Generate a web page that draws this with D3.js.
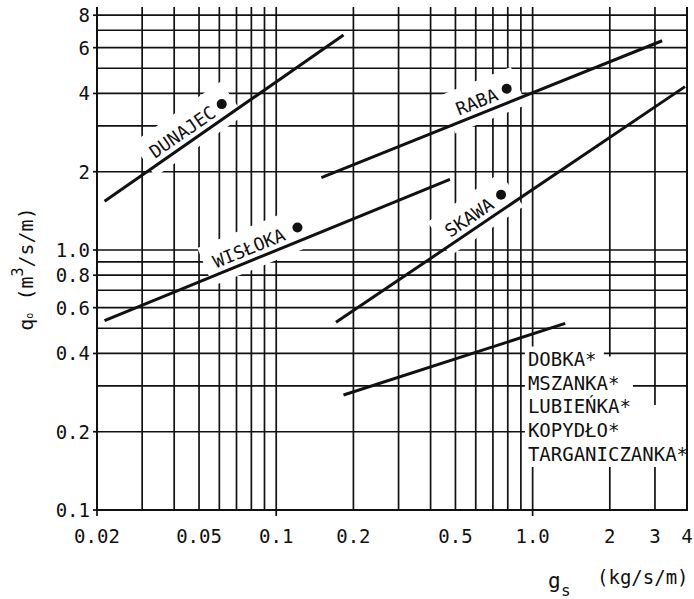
<!DOCTYPE html>
<html>
<head>
<meta charset="utf-8">
<script src="https://cdn.jsdelivr.net/npm/d3@7"></script>
<style>
  body { margin: 0; background: #fff; }
  text { font-family: "DejaVu Sans Mono", monospace; fill: #111; }
</style>
</head>
<body>
<svg></svg>
<script>
const w = 694
const h = 599

// tick labels
const xTicks = [0.02, 0.05, 0.1, 0.2, 0.5, 1, 2, 3, 4]
const xTickLabels = ['0.02', '0.05', '0.1', '0.2', '0.5', '1.0', '2', '3', '4']
const yTicks = [0.1, 0.2, 0.4, 0.6, 0.8, 1, 2, 4, 6, 8]
const yTickLabels = ['0.1', '0.2', '0.4', '0.6', '0.8', '1.0', '2', '4', '6', '8']

// grid lines
const xGrid = [0.03, 0.04, 0.05, 0.06, 0.07, 0.08, 0.09, 0.1, 0.2, 0.3, 0.4, 0.5, 0.6, 0.7, 0.8, 0.9, 1, 2, 3]
const yGrid = [0.2, 0.3, 0.4, 0.5, 0.6, 0.7, 0.8, 0.9, 1, 2, 3, 4, 5, 6, 7, 8]

// rivers: line ends [gs, q0] and measured point
const rivers = ['DUNAJEC', 'WISŁOKA', 'RABA', 'SKAWA']
const riverLines = [
  [[0.0214, 1.54], [0.183, 6.71]],
  [[0.0214, 0.535], [0.476, 1.87]],
  [[0.150, 1.90], [3.20, 6.38]],
  [[0.171, 0.527], [3.93, 4.25]]
]
const riverPoints = [[0.0613, 3.64], [0.121, 1.22], [0.792, 4.17], [0.753, 1.63]]
const labelAt = [0.0459, 0.0817, 0.631, 0.602] // gs where the label sits on the line

// small streams share one line
const streams = ['DOBKA*', 'MSZANKA*', 'LUBIEŃKA*', 'KOPYDŁO*', 'TARGANICZANKA*']
const streamLine = [[0.183, 0.277], [1.34, 0.522]]

const svg = d3.select('svg')
  .attr('width', w)
  .attr('height', h)

const x = d3.scaleLog().domain([0.02, 4]).range([97, 687])
const y = d3.scaleLog().domain([0.1, 10]).range([510, -10])
const gridTop = 7

const gridG = svg.append('g')
const maskG = svg.append('g')
const dataG = svg.append('g')
const textG = svg.append('g')

// grid
gridG.selectAll('.vg').data(xGrid)
  .enter().append('line')
  .attr('x1', d => x(d)).attr('x2', d => x(d))
  .attr('y1', gridTop).attr('y2', y(0.1))
  .attr('stroke', '#111').attr('stroke-width', 1.7)

gridG.selectAll('.hg').data(yGrid)
  .enter().append('line')
  .attr('x1', x(0.02)).attr('x2', x(4))
  .attr('y1', d => y(d)).attr('y2', d => y(d))
  .attr('stroke', '#111').attr('stroke-width', 1.7)

// frame: left axis, bottom axis, right border
gridG.append('path')
  .attr('d', `M${x(0.02)},${gridTop}V${y(0.1)}H${x(4)}V${gridTop}`)
  .attr('fill', 'none').attr('stroke', '#111').attr('stroke-width', 2)

// tick marks
gridG.selectAll('.yt').data(yTicks)
  .enter().append('line')
  .attr('x1', x(0.02) - 4).attr('x2', x(0.02))
  .attr('y1', d => y(d)).attr('y2', d => y(d))
  .attr('stroke', '#111').attr('stroke-width', 1.7)

gridG.selectAll('.xt').data([0.02, 0.1, 1])
  .enter().append('line')
  .attr('x1', d => x(d)).attr('x2', d => x(d))
  .attr('y1', y(0.1)).attr('y2', y(0.1) + 6)
  .attr('stroke', '#111').attr('stroke-width', 1.7)

// tick labels
textG.selectAll('.xl').data(xTicks)
  .enter().append('text')
  .attr('x', d => x(d)).attr('y', 543)
  .attr('text-anchor', 'middle')
  .attr('font-size', 19)
  .text((d, i) => xTickLabels[i])

textG.selectAll('.yl').data(yTicks)
  .enter().append('text')
  .attr('x', 90).attr('y', d => y(d) + 7)
  .attr('text-anchor', 'end')
  .attr('font-size', 19)
  .text((d, i) => yTickLabels[i])

// axis titles
const yt = textG.append('text')
  .attr('transform', 'translate(33, 269) rotate(-90)')
  .attr('text-anchor', 'middle')
  .attr('font-size', 20)
yt.append('tspan').text('q')
yt.append('tspan').attr('font-size', 10).text('o')
yt.append('tspan').text(' (m')
yt.append('tspan').attr('font-size', 15).attr('dy', -10).text('3')
yt.append('tspan').attr('dy', 10).text('/s/m)')

textG.append('text').attr('x', 548).attr('y', 588).attr('font-size', 21).text('g')
textG.append('text').attr('x', 561).attr('y', 596).attr('font-size', 16).text('s')
textG.append('text').attr('x', 597).attr('y', 584).attr('font-size', 19).text('(kg/s/m)')

// river lines with labels
const lineGen = d3.line().x(d => x(d[0])).y(d => y(d[1]))

rivers.forEach((name, i) => {
  const pts = riverLines[i]
  const p0 = [x(pts[0][0]), y(pts[0][1])]
  const p1 = [x(pts[1][0]), y(pts[1][1])]
  const ang = Math.atan2(p1[1] - p0[1], p1[0] - p0[0])
  const ax = x(labelAt[i])
  const ay = p0[1] + (ax - p0[0]) * Math.tan(ang)
  const dot = [x(riverPoints[i][0]), y(riverPoints[i][1])]
  const dotU = (dot[0] - ax) * Math.cos(ang) + (dot[1] - ay) * Math.sin(ang)
  const halfW = name.length * 10.8 / 2
  const tr = `translate(${ax},${ay}) rotate(${ang * 180 / Math.PI})`

  // white gap in the grid behind the label and point
  maskG.append('rect')
    .attr('transform', tr)
    .attr('x', -halfW - 10).attr('y', -32)
    .attr('width', dotU + 12 + halfW + 10).attr('height', 41)
    .attr('fill', '#fff')

  dataG.append('path')
    .attr('d', lineGen(pts))
    .attr('fill', 'none').attr('stroke', '#111').attr('stroke-width', 3)

  dataG.append('circle')
    .attr('cx', dot[0]).attr('cy', dot[1]).attr('r', 5)
    .attr('fill', '#111')

  textG.append('text')
    .attr('transform', tr)
    .attr('y', -6)
    .attr('text-anchor', 'middle')
    .attr('font-size', 18)
    .text(name)
})

// small streams
dataG.append('path')
  .attr('d', lineGen(streamLine))
  .attr('fill', 'none').attr('stroke', '#111').attr('stroke-width', 3)

const lx = x(0.9) + 4
maskG.append('path')
  .attr('d', `M${lx},${y(0.4) - 7}H${x(2) - 6}V${y(0.4) + 3}H${x(3) - 22}V${y(0.3) + 3}` +
    `H${x(3) - 4}V${y(0.3) + 19}H${x(4) - 1}V467H${lx}Z`)
  .attr('fill', '#fff')

textG.selectAll('.leg').data(streams)
  .enter().append('text')
  .attr('x', lx + 3)
  .attr('y', (d, i) => 366 + i * 23.7)
  .attr('font-size', 19)
  .text(d => d)
</script>
</body>
</html>
